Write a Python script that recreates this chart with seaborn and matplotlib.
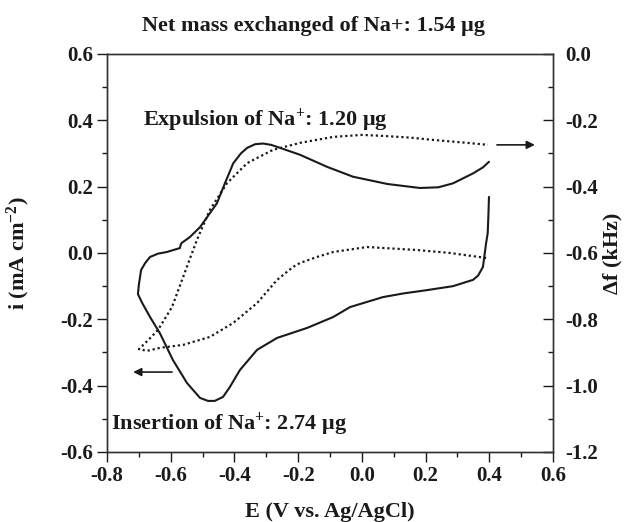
import matplotlib
matplotlib.use("Agg")
import matplotlib.pyplot as plt
from matplotlib.ticker import MultipleLocator
import seaborn as sns
import pandas as pd

# Cyclic voltammogram: potential (V vs. Ag/AgCl) and current density (mA cm^-2),
# traced from the reverse sweep start at +0.4 V round the loop back to +0.4 V
E_cv = [0.399, 0.397, 0.395, 0.39, 0.38, 0.365, 0.349, 0.286, 0.204, 0.13, 0.066,
        -0.037, -0.09, -0.172, -0.266, -0.329, -0.383, -0.415, -0.436, -0.462,
        -0.483, -0.508, -0.549, -0.593, -0.634, -0.665, -0.690, -0.703, -0.700,
        -0.693, -0.680, -0.665, -0.640, -0.612, -0.571, -0.569, -0.566, -0.540,
        -0.508, -0.455, -0.430, -0.404, -0.380, -0.36, -0.335, -0.31, -0.285,
        -0.257, -0.194, -0.11, -0.028, 0.08, 0.182, 0.24, 0.286, 0.349, 0.38, 0.399]
i_cv = [0.169, 0.108, 0.06, 0.03, -0.042, -0.068, -0.081, -0.10, -0.112, -0.122, -0.133,
        -0.163, -0.193, -0.226, -0.256, -0.292, -0.353, -0.405, -0.434, -0.446,
        -0.446, -0.437, -0.392, -0.323, -0.242, -0.193, -0.150, -0.124, -0.095,
        -0.051, -0.030, -0.012, -0.002, 0.003, 0.015, 0.024, 0.030, 0.048,
        0.078, 0.15, 0.21, 0.27, 0.300, 0.317, 0.328, 0.33, 0.326,
        0.317, 0.296, 0.26, 0.23, 0.208, 0.196, 0.198, 0.21, 0.24, 0.258, 0.275]

# Frequency change of the quartz crystal (kHz) over the same sweep
E_qcm = [0.39, 0.33, 0.277, 0.173, 0.016, -0.09, -0.141, -0.194, -0.216, -0.266,
         -0.329, -0.404, -0.477, -0.561, -0.634, -0.674, -0.70, -0.67, -0.64,
         -0.596, -0.561, -0.518, -0.477, -0.423, -0.36, -0.279, -0.194, -0.09,
         0.0, 0.066, 0.15, 0.223, 0.33, 0.396]
df_qcm = [-0.615, -0.607, -0.60, -0.591, -0.582, -0.597, -0.612, -0.63, -0.642, -0.681,
          -0.751, -0.811, -0.853, -0.877, -0.886, -0.895, -0.89, -0.862, -0.832,
          -0.763, -0.672, -0.561, -0.47, -0.389, -0.329, -0.289, -0.268, -0.25,
          -0.244, -0.247, -0.252, -0.259, -0.268, -0.274]

cv = pd.DataFrame({"E": E_cv, "i": i_cv, "order": range(len(E_cv))})
qcm = pd.DataFrame({"E": E_qcm, "df": df_qcm, "order": range(len(E_qcm))})

title_text = "Net mass exchanged of Na+: 1.54 \u03bcg"
expulsion_text = "Expulsion of Na$^{+}$: 1.20 \u03bcg"
insertion_text = "Insertion of Na$^{+}$: 2.74 \u03bcg"

sns.set_style("ticks")
plt.rcParams["font.family"] = ["Liberation Serif", "DejaVu Serif"]
plt.rcParams["font.weight"] = "bold"
plt.rcParams["mathtext.fontset"] = "custom"
plt.rcParams["mathtext.rm"] = "Liberation Serif"
plt.rcParams["mathtext.it"] = "Liberation Serif:italic"
plt.rcParams["mathtext.bf"] = "Liberation Serif:bold"
plt.rcParams["axes.linewidth"] = 1.0

INK = "#1a1a1a"
FS = 16
TICK_FS = 15

fig = plt.figure(figsize=(6.27, 5.22), dpi=100)
ax = fig.add_axes([0.1707, 0.1341, 0.7113, 0.7625])
ax2 = ax.twinx()

sns.lineplot(data=cv, x="E", y="i", sort=False, estimator=None, ax=ax,
             color=INK, linewidth=1.5)
sns.lineplot(data=qcm, x="E", y="df", sort=False, estimator=None, ax=ax2,
             color=INK, linewidth=1.6, linestyle=(0, (1, 1.3)))

ax.set_xlim(-0.8, 0.6)
ax.set_ylim(-0.6, 0.6)
ax2.set_ylim(-1.2, 0.0)

ax.xaxis.set_major_locator(MultipleLocator(0.2))
ax.xaxis.set_minor_locator(MultipleLocator(0.1))
ax.yaxis.set_major_locator(MultipleLocator(0.2))
ax.yaxis.set_minor_locator(MultipleLocator(0.1))
ax2.yaxis.set_major_locator(MultipleLocator(0.2))
ax2.yaxis.set_minor_locator(MultipleLocator(0.1))

fmt = lambda v, p: f"{v:.1f}".replace("-0.0", "0.0")
ax.xaxis.set_major_formatter(fmt)
ax.yaxis.set_major_formatter(fmt)
ax2.yaxis.set_major_formatter(fmt)

ax.tick_params(axis="both", which="major", direction="out", length=7, width=1,
               labelsize=TICK_FS, pad=3, top=False, right=False, colors=INK)
ax.tick_params(axis="both", which="minor", direction="out", length=3.5, width=1,
               top=False, right=False, colors=INK)
ax2.tick_params(axis="y", which="major", direction="in", length=7, width=1,
                labelsize=TICK_FS, pad=9, colors=INK)
ax2.tick_params(axis="y", which="minor", direction="in", length=3.5, width=1,
                colors=INK)
for a in (ax, ax2):
    for lab in a.get_xticklabels() + a.get_yticklabels():
        lab.set_fontweight("bold")
    for s in a.spines.values():
        s.set_color("#333333")
        s.set_visible(True)

ax.set_xlabel("E (V vs. Ag/AgCl)", fontsize=FS, fontweight="bold", color=INK)
ax.set_ylabel("i (mA cm$^{-2}$)", fontsize=FS, fontweight="bold", color=INK)
ax2.set_ylabel("\u0394f (kHz)", fontsize=FS, fontweight="bold", color=INK)
ax.xaxis.set_label_coords(0.5, -0.125)
ax.yaxis.set_label_coords(-0.168, 0.5)
ax2.yaxis.set_label_coords(1.112, 0.5)

# Arrows pointing to the axis each trace belongs to
ax.annotate("", xy=(0.543, 0.326), xytext=(0.424, 0.326),
            arrowprops=dict(arrowstyle="-|>", color=INK, lw=1.2,
                            mutation_scale=12, shrinkA=0, shrinkB=0))
ax.annotate("", xy=(-0.718, -0.359), xytext=(-0.596, -0.359),
            arrowprops=dict(arrowstyle="-|>", color=INK, lw=1.2,
                            mutation_scale=12, shrinkA=0, shrinkB=0))

ax.text(-0.688, 0.40, expulsion_text, fontsize=FS, fontweight="bold",
        ha="left", va="center", color=INK)
ax.text(-0.787, -0.515, insertion_text, fontsize=FS, fontweight="bold",
        ha="left", va="center", color=INK)
fig.text(0.5, 1 - 26 / 522, title_text, fontsize=FS, fontweight="bold",
         ha="center", va="center", color=INK)

fig.savefig("out.png", dpi=100)
